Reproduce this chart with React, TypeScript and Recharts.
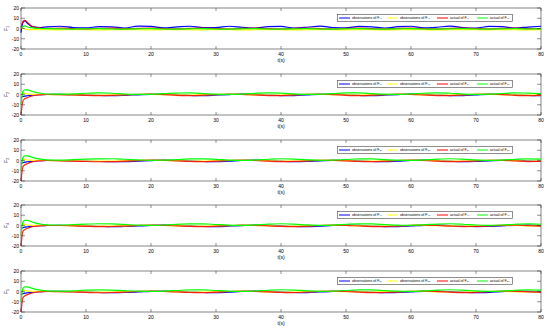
import React from 'react';
import { LineChart, Line, XAxis, YAxis, ReferenceArea, Legend } from 'recharts';

const T = [0, 0.3, 0.6, 1, 1.5, 2, 3, 4, 6, 8, 10, 12, 14, 16, 18, 20, 22, 24, 26, 28, 30, 32, 34, 36, 38, 40, 42, 44, 46, 48, 50, 52, 54, 56, 58, 60, 62, 64, 66, 68, 70, 72, 74, 76, 78, 80];
const X_TICKS = [0, 10, 20, 30, 40, 50, 60, 70, 80];
const Y_TICKS = [-20, -10, 0, 10, 20];
const Y_LABELS = ['F\u2081', 'F\u2082', 'F\u2083', 'F\u2084', 'F\u2085'];
const SUBS = ['\u2081', '\u2082', '\u2083', '\u2084', '\u2085'];

// Panel 1
const P1_OBS_A = [-4, 6, 7.5, 5, 2.5, 1.5, 1.0, 1.6, 2.2, 1.0, 0.6, 1.8, 1.6, 0.5, 2.4, 2.0, 0.6, 1.5, 2.2, 0.8, 0.8, 2.2, 1.2, 0.4, 1.8, 2.0, 0.5, 1.2, 2.3, 1.0, 0.6, 2.0, 1.6, 0.5, 1.8, 2.2, 0.6, 1.2, 2.3, 1.0, 0.5, 2.0, 1.8, 0.5, 1.4, 2.2];
const P1_OBS_B = [0, 0, -0.5, -0.8, -1, -1, -1.1, -1.2, -1.3, -1.1, -1.2, -1.4, -1.2, -1.0, -1.2, -1.4, -1.2, -1.0, -1.2, -1.3, -1.1, -1.2, -1.4, -1.2, -1.0, -1.2, -1.4, -1.2, -1.0, -1.2, -1.3, -1.1, -1.2, -1.4, -1.2, -1.0, -1.2, -1.4, -1.2, -1.1, -1.2, -1.3, -1.1, -1.2, -1.4, -1.2];
const P1_ACT_A = [0, 7, 8, 6, 3, 1.5, 0.5, 0.2, 0.3, -0.2, -0.3, 0.2, 0.3, -0.2, 0.1, 0.3, -0.1, -0.3, 0.1, 0.3, 0.0, -0.3, 0.1, 0.3, -0.1, -0.3, 0.1, 0.3, -0.1, -0.3, 0.2, 0.3, -0.2, -0.3, 0.1, 0.3, -0.1, -0.3, 0.1, 0.3, 0.0, -0.3, 0.1, 0.3, -0.1, -0.2];
const P1_ACT_B = [0, 2, 2.5, 1.5, 0.8, 0.3, 0, -0.2, -0.4, -0.6, -0.3, -0.2, -0.5, -0.6, -0.3, -0.2, -0.5, -0.6, -0.3, -0.2, -0.5, -0.6, -0.3, -0.2, -0.5, -0.6, -0.3, -0.2, -0.5, -0.6, -0.3, -0.2, -0.5, -0.6, -0.3, -0.2, -0.5, -0.6, -0.3, -0.2, -0.5, -0.6, -0.3, -0.2, -0.5, -0.4];

// Panel 2
const P2_OBS_A = [-3, -2, -1.5, -1.2, -0.8, -0.5, -0.2, 0, 0.1, -0.2, -0.5, -0.9, -1.1, -0.8, -0.3, 0.2, 0.3, -0.2, -0.8, -1.1, -0.7, -0.1, 0.3, 0.1, -0.5, -1.0, -1.0, -0.4, 0.2, 0.3, -0.2, -0.8, -1.1, -0.7, -0.1, 0.3, 0.1, -0.5, -1.0, -1.0, -0.4, 0.2, 0.3, -0.2, -0.8, -1.1];
const P2_OBS_B = [2, 1.5, 1, 0.5, 0.3, 0.1, 0, 0, -0.1, -0.3, -0.5, -0.6, -0.5, -0.2, 0.0, 0.1, -0.1, -0.4, -0.6, -0.4, -0.1, 0.1, 0.0, -0.3, -0.5, -0.5, -0.2, 0.1, 0.1, -0.1, -0.4, -0.6, -0.4, -0.1, 0.1, 0.0, -0.3, -0.5, -0.5, -0.2, 0.1, 0.1, -0.1, -0.4, -0.6, -0.3];
const P2_ACT_A = [-20, -6, -4, -3, -1.8, -1, -0.3, 0, -0.2, -0.5, -0.9, -1.1, -0.8, -0.3, 0.2, 0.3, -0.2, -0.8, -1.1, -0.7, -0.1, 0.3, 0.1, -0.5, -1.0, -1.0, -0.4, 0.2, 0.3, -0.2, -0.8, -1.1, -0.7, -0.1, 0.3, 0.1, -0.5, -1.0, -1.0, -0.4, 0.2, 0.3, -0.2, -0.8, -1.1, -0.6];
const P2_ACT_B = [-10, 3, 4.5, 4.5, 3.5, 2.5, 1.2, 0.5, 0.3, 0.6, 1.2, 1.5, 1.2, 0.5, 0.1, 0.2, 0.8, 1.4, 1.5, 1.0, 0.3, 0.1, 0.4, 1.1, 1.6, 1.3, 0.6, 0.1, 0.3, 0.9, 1.5, 1.5, 0.9, 0.3, 0.1, 0.6, 1.2, 1.6, 1.2, 0.5, 0.1, 0.3, 1.0, 1.5, 1.4, 0.8];

// Panel 3
const P3_OBS_A = [-3, -2.2, -1.6, -1.2, -0.8, -0.5, -0.2, 0, 0.0, -0.3, -0.6, -1.0, -1.2, -1.1, -0.6, -0.1, 0.3, 0.2, -0.4, -1.0, -1.1, -0.6, 0.0, 0.3, 0.0, -0.6, -1.1, -0.9, -0.3, 0.2, 0.2, -0.4, -1.0, -1.1, -0.6, 0.0, 0.3, 0.0, -0.6, -1.1, -0.9, -0.3, 0.2, 0.2, -0.4, -1.0];
const P3_OBS_B = [2, 1.5, 1, 0.5, 0.3, 0.1, 0, 0, -0.1, -0.3, -0.5, -0.6, -0.6, -0.3, 0.0, 0.1, 0.1, -0.2, -0.5, -0.6, -0.3, 0.0, 0.1, 0.0, -0.3, -0.6, -0.5, -0.1, 0.1, 0.1, -0.2, -0.5, -0.6, -0.3, 0.0, 0.1, 0.0, -0.3, -0.6, -0.5, -0.1, 0.1, 0.1, -0.2, -0.5, -0.5];
const P3_ACT_A = [-20, -6, -4.2, -3, -1.8, -1, -0.3, 0, -0.3, -0.6, -1.0, -1.2, -1.1, -0.6, -0.1, 0.3, 0.2, -0.4, -1.0, -1.1, -0.6, 0.0, 0.3, 0.0, -0.6, -1.1, -0.9, -0.3, 0.2, 0.2, -0.4, -1.0, -1.1, -0.6, 0.0, 0.3, 0.0, -0.6, -1.1, -0.9, -0.3, 0.2, 0.2, -0.4, -1.0, -0.9];
const P3_ACT_B = [-10, 3, 4.5, 4.6, 3.6, 2.6, 1.3, 0.6, 0.4, 0.8, 1.3, 1.6, 1.7, 1.2, 0.6, 0.2, 0.3, 0.9, 1.5, 1.6, 1.1, 0.4, 0.1, 0.5, 1.2, 1.7, 1.4, 0.7, 0.2, 0.3, 1.0, 1.6, 1.5, 0.9, 0.3, 0.1, 0.6, 1.3, 1.7, 1.3, 0.6, 0.1, 0.4, 1.1, 1.6, 1.3];

// Panel 4
const P4_OBS_A = [-3, -2.2, -1.6, -1.2, -0.8, -0.5, -0.2, 0, 0.2, 0.0, -0.4, -0.8, -1.1, -1.0, -0.5, 0.0, 0.3, 0.1, -0.4, -0.9, -1.1, -0.7, -0.1, 0.3, 0.2, -0.3, -0.9, -1.1, -0.6, 0.0, 0.3, 0.1, -0.5, -1.0, -1.0, -0.5, 0.1, 0.3, 0.0, -0.6, -1.0, -0.9, -0.3, 0.2, 0.3, -0.2];
const P4_OBS_B = [2, 1.5, 1, 0.5, 0.3, 0.1, 0, 0, 0.0, -0.2, -0.4, -0.6, -0.5, -0.3, 0.0, 0.1, 0.0, -0.2, -0.5, -0.6, -0.4, -0.1, 0.1, 0.1, -0.2, -0.5, -0.6, -0.3, 0.0, 0.1, 0.0, -0.3, -0.5, -0.5, -0.2, 0.1, 0.1, -0.1, -0.4, -0.5, -0.4, -0.1, 0.1, 0.0, -0.3, -0.5];
const P4_ACT_A = [-20, -5.5, -4, -2.8, -1.7, -1, -0.3, 0, 0.0, -0.4, -0.8, -1.1, -1.0, -0.5, 0.0, 0.3, 0.1, -0.4, -0.9, -1.1, -0.7, -0.1, 0.3, 0.2, -0.3, -0.9, -1.1, -0.6, 0.0, 0.3, 0.1, -0.5, -1.0, -1.0, -0.5, 0.1, 0.3, 0.0, -0.6, -1.0, -0.9, -0.3, 0.2, 0.3, -0.2, -0.7];
const P4_ACT_B = [-10, 3.5, 5, 5, 4, 2.8, 1.4, 0.7, 0.5, 0.9, 1.4, 1.7, 1.5, 1.0, 0.4, 0.2, 0.5, 1.1, 1.6, 1.6, 1.0, 0.4, 0.1, 0.6, 1.3, 1.7, 1.3, 0.6, 0.2, 0.4, 1.1, 1.6, 1.5, 0.9, 0.3, 0.2, 0.7, 1.4, 1.7, 1.2, 0.5, 0.2, 0.5, 1.2, 1.6, 1.2];

// Panel 5
const P5_OBS_A = [-3, -2.2, -1.6, -1.2, -0.8, -0.5, -0.2, 0, 0.1, -0.1, -0.5, -0.9, -1.2, -1.0, -0.5, 0.1, 0.3, 0.0, -0.5, -1.0, -1.1, -0.6, 0.0, 0.3, 0.1, -0.4, -1.0, -1.1, -0.5, 0.1, 0.3, 0.0, -0.6, -1.1, -1.0, -0.4, 0.2, 0.3, -0.1, -0.7, -1.1, -0.8, -0.2, 0.3, 0.2, -0.3];
const P5_OBS_B = [2, 1.5, 1, 0.5, 0.3, 0.1, 0, 0, -0.1, -0.2, -0.5, -0.6, -0.5, -0.2, 0.0, 0.1, 0.0, -0.3, -0.5, -0.6, -0.3, 0.0, 0.1, 0.0, -0.3, -0.6, -0.5, -0.2, 0.1, 0.1, -0.1, -0.4, -0.6, -0.4, -0.1, 0.1, 0.0, -0.3, -0.5, -0.5, -0.2, 0.1, 0.1, -0.2, -0.5, -0.5];
const P5_ACT_A = [-20, -6, -4.2, -3, -1.8, -1, -0.3, 0, -0.1, -0.5, -0.9, -1.2, -1.0, -0.5, 0.1, 0.3, 0.0, -0.5, -1.0, -1.1, -0.6, 0.0, 0.3, 0.1, -0.4, -1.0, -1.1, -0.5, 0.1, 0.3, 0.0, -0.6, -1.1, -1.0, -0.4, 0.2, 0.3, -0.1, -0.7, -1.1, -0.8, -0.2, 0.3, 0.2, -0.3, -0.9];
const P5_ACT_B = [-10, 3, 4.6, 4.6, 3.6, 2.6, 1.3, 0.6, 0.4, 0.7, 1.3, 1.6, 1.4, 0.8, 0.3, 0.1, 0.4, 1.0, 1.6, 1.6, 1.0, 0.4, 0.1, 0.5, 1.2, 1.7, 1.4, 0.7, 0.2, 0.3, 1.0, 1.6, 1.5, 0.9, 0.3, 0.1, 0.6, 1.3, 1.7, 1.3, 0.6, 0.1, 0.4, 1.1, 1.6, 1.3];

const PANELS = [
  [P1_OBS_A, P1_OBS_B, P1_ACT_A, P1_ACT_B],
  [P2_OBS_A, P2_OBS_B, P2_ACT_A, P2_ACT_B],
  [P3_OBS_A, P3_OBS_B, P3_ACT_A, P3_ACT_B],
  [P4_OBS_A, P4_OBS_B, P4_ACT_A, P4_ACT_B],
  [P5_OBS_A, P5_OBS_B, P5_ACT_A, P5_ACT_B],
];

const COLORS = ['#0000ff', '#ffff00', '#ff0000', '#00ff00'];
const KEYS = ['b', 'y', 'r', 'g'];
const PW = 520;
const PH = 41;
const FONT = '"Liberation Sans", Arial, sans-serif';

const YTick = (props: any) => {
  const { x, y, payload } = props;
  return (
    <g>
      <line x1={x} x2={x + 4} y1={y} y2={y} stroke="#222" strokeWidth={0.5} />
      <line x1={x + PW - 4} x2={x + PW} y1={y} y2={y} stroke="#222" strokeWidth={0.5} />
      <text x={x - 2} y={y} textAnchor="end" dominantBaseline="central" fontSize={5} fontFamily={FONT} fill="#000">
        {payload.value}
      </text>
    </g>
  );
};

const XTick = (props: any) => {
  const { x, y, payload } = props;
  return (
    <g>
      <line x1={x} x2={x} y1={y} y2={y - 3} stroke="#222" strokeWidth={0.5} />
      <line x1={x} x2={x} y1={y - PH} y2={y - PH + 3} stroke="#222" strokeWidth={0.5} />
      <text x={x} y={y + 5} textAnchor="middle" dominantBaseline="central" fontSize={5} fontFamily={FONT} fill="#000">
        {payload.value}
      </text>
    </g>
  );
};

// legend entry layout (x offset of each entry inside the legend box)
const LEGEND_X = [2, 50, 100, 140];

const makeLegend = (idx: number) => () => {
  const s = SUBS[idx];
  const labels = [
    'observations of F' + s + '\u2081',
    'observations of F' + s + '\u2082',
    'actual of F' + s + '\u2081',
    'actual of F' + s + '\u2082',
  ];
  return (
    <svg width={176} height={8} style={{ display: 'block' }}>
      <rect x={0.5} y={0.5} width={175} height={7} fill="#fff" stroke="#444" strokeWidth={0.6} />
      {labels.map((l, i) => (
        <g key={i}>
          <line x1={LEGEND_X[i]} x2={LEGEND_X[i] + 11} y1={4} y2={4} stroke={COLORS[i]} strokeWidth={1} />
          <text x={LEGEND_X[i] + 13} y={4} dominantBaseline="central" fontSize={3.6} fontFamily={FONT} fill="#000">
            {l}
          </text>
        </g>
      ))}
    </svg>
  );
};

function Panel({ idx }: { idx: number }) {
  const series = PANELS[idx];
  const data = T.map((t, i) => ({ t, b: series[0][i], y: series[1][i], r: series[2][i], g: series[3][i] }));
  return (
    <LineChart width={550} height={66} data={data} margin={{ top: 8, right: 9, left: 0, bottom: 2 }}>
      <XAxis
        dataKey="t"
        type="number"
        domain={[0, 80]}
        ticks={X_TICKS}
        tickSize={0}
        tickMargin={0}
        tickLine={false}
        tick={<XTick />}
        axisLine={false}
        height={15}
        interval={0}
        label={{ value: 't(s)', position: 'insideBottom', offset: 2, fontSize: 5, fontFamily: FONT, fill: '#000' }}
      />
      <YAxis
        type="number"
        domain={[-20, 20]}
        ticks={Y_TICKS}
        allowDataOverflow
        width={21}
        tickSize={0}
        tickMargin={0}
        tickLine={false}
        tick={<YTick />}
        axisLine={false}
        interval={0}
        label={{
          content: (p: any) => {
            const vb = p.viewBox;
            const cx = 6;
            const cy = vb.y + vb.height / 2;
            return (
              <text x={cx} y={cy} transform={`rotate(-90 ${cx} ${cy})`} textAnchor="middle" dominantBaseline="central" fontSize={5} fontFamily={FONT} fill="#000">
                {Y_LABELS[idx]}
              </text>
            );
          },
        }}
      />
      {KEYS.map((k, i) => (
        <Line key={k} type="monotone" dataKey={k} stroke={COLORS[i]} strokeWidth={1.2} strokeOpacity={k === 'r' ? 0.85 : 1} dot={false} isAnimationActive={false} />
      ))}
      <ReferenceArea x1={0} x2={80} y1={-20} y2={20} fill="none" stroke="#333" strokeWidth={0.6} ifOverflow="visible" />
      <Legend layout="horizontal" verticalAlign="middle" align="center" wrapperStyle={{ top: 14, left: 337, width: 176, height: 8 }} content={makeLegend(idx)} />
    </LineChart>
  );
}

export default function App() {
  return (
    <div style={{ position: 'absolute', top: 0, left: 0, width: 550, height: 331, background: '#fff' }}>
      {PANELS.map((_, i) => (
        <div key={i} style={{ position: 'absolute', left: 0, top: Math.round(65.8 * i) }}>
          <Panel idx={i} />
        </div>
      ))}
    </div>
  );
}
